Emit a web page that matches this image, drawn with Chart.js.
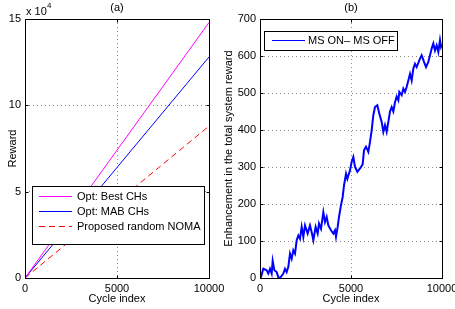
<!DOCTYPE html>
<html>
<head>
<meta charset="utf-8">
<script src="https://cdn.jsdelivr.net/npm/chart.js@4.4.0/dist/chart.umd.min.js"></script>
<style>
  html, body { margin: 0; padding: 0; background: #fff; width: 455px; height: 309px; overflow: hidden; }
  #chartA { position: absolute; left: 0; top: 0; }
  #chartB { position: absolute; left: 218px; top: 0; }
</style>
</head>
<body>
<canvas id="chartA" width="228" height="309"></canvas>
<canvas id="chartB" width="237" height="309"></canvas>
<script>
// ---- (a) reward vs cycle index ----
const cyclesA = [0, 5000, 10000];
const rewardBest = [0, 74000, 148000];
const rewardMab = [0, 64000, 128000];
const rewardNoma = [0, 44000, 88000];
const xTicks = [0, 5000, 10000];
const yTicksA = [0, 50000, 100000, 150000];

// ---- (b) enhancement MS ON - MS OFF ----
const cyclesB = [0, 55, 183, 366, 458, 550, 641, 696, 788, 916, 1007, 1099, 1282, 1374, 1465, 1557,
  1648, 1740, 1831, 1923, 2015, 2106, 2198, 2289, 2381, 2473, 2619, 2747, 2839, 2930, 3058, 3168,
  3242, 3352, 3480, 3571, 3663, 3755, 3901, 4029, 4120, 4176, 4267, 4341, 4451, 4542, 4616, 4726,
  4800, 4945, 5037, 5129, 5220, 5348, 5495, 5641, 5714, 5824, 5952, 6044, 6136, 6227, 6319, 6447,
  6557, 6685, 6776, 6868, 6960, 7051, 7143, 7235, 7326, 7418, 7509, 7601, 7655, 7784, 7875, 7967,
  8058, 8150, 8242, 8333, 8425, 8516, 8608, 8791, 8883, 9011, 9121, 9249, 9341, 9432, 9524, 9615,
  9707, 9799, 9890, 9945, 10000];
const enhancement = [0, 3, 25, 21, 12, 25, 12, 46, 21, 16, 2, 0, 12, 25, 16, 30,
  66, 52, 75, 66, 102, 115, 106, 138, 111, 142, 120, 142, 124, 102, 138, 120,
  147, 133, 178, 151, 165, 142, 129, 120, 129, 111, 138, 165, 197, 219, 250, 282,
  268, 291, 314, 327, 300, 287, 296, 307, 345, 355, 341, 368, 399, 440, 462, 467,
  444, 422, 395, 413, 395, 422, 450, 462, 450, 475, 490, 480, 503, 494, 512, 503,
  516, 534, 552, 534, 566, 579, 570, 593, 602, 584, 570, 584, 602, 620, 634, 615,
  629, 611, 643, 625, 632];
const yTicksB = [0, 100, 200, 300, 400, 500, 600, 700];

Chart.defaults.font.family = '"Liberation Sans", Arial, Helvetica, sans-serif';
Chart.defaults.font.size = 11;
Chart.defaults.color = '#000';

const toPoints = (xs, ys) => xs.map((x, i) => ({ x: x, y: ys[i] }));

// MATLAB-like frame, inward ticks, in-axes legend and titles
const matlabFrame = {
  id: 'matlabFrame',
  afterDraw(chart, args, opts) {
    const { ctx, chartArea: a, scales } = chart;
    const L = Math.round(a.left) + 0.5, R = Math.round(a.right) + 0.5;
    const T = Math.round(a.top) + 0.5, B = Math.round(a.bottom) + 0.5;
    ctx.save();
    ctx.strokeStyle = '#000';
    ctx.lineWidth = 1;
    ctx.setLineDash([]);
    ctx.strokeRect(L, T, R - L, B - T);
    // inward tick marks
    ctx.beginPath();
    for (const t of scales.x.ticks) {
      const px = Math.round(scales.x.getPixelForValue(t.value)) + 0.5;
      ctx.moveTo(px, B); ctx.lineTo(px, B - 3);
      ctx.moveTo(px, T); ctx.lineTo(px, T + 3);
    }
    for (const t of scales.y.ticks) {
      const py = Math.round(scales.y.getPixelForValue(t.value)) + 0.5;
      ctx.moveTo(L, py); ctx.lineTo(L + 3, py);
      ctx.moveTo(R, py); ctx.lineTo(R - 3, py);
    }
    ctx.stroke();

    // legend box
    const lg = opts.legend;
    if (lg) {
      ctx.fillStyle = '#fff';
      ctx.fillRect(lg.x, lg.y, lg.w, lg.h);
      ctx.strokeStyle = '#000';
      ctx.strokeRect(lg.x + 0.5, lg.y + 0.5, lg.w, lg.h);
      chart.data.datasets.forEach((ds, i) => {
        const ry = lg.firstY + i * lg.rowH;
        ctx.beginPath();
        ctx.strokeStyle = ds.borderColor;
        ctx.lineWidth = 1;
        ctx.setLineDash(ds.borderDash || []);
        ctx.moveTo(lg.lineX0, ry + 0.5);
        ctx.lineTo(lg.lineX1, ry + 0.5);
        ctx.stroke();
        ctx.setLineDash([]);
        ctx.fillStyle = '#000';
        ctx.font = '11px "Liberation Sans", Arial, sans-serif';
        ctx.textBaseline = 'middle';
        ctx.textAlign = 'left';
        ctx.fillText(ds.label, lg.textX, ry + 1);
      });
    }

    // subplot title
    ctx.fillStyle = '#000';
    ctx.font = '11px "Liberation Sans", Arial, sans-serif';
    ctx.textAlign = 'center';
    ctx.textBaseline = 'middle';
    ctx.fillText(opts.title, (a.left + a.right) / 2, 8);

    // exponent label
    if (opts.exponent) {
      ctx.textAlign = 'left';
      ctx.textBaseline = 'alphabetic';
      ctx.fillText('x 10', a.left + 1, 15);
      ctx.font = '8px "Liberation Sans", Arial, sans-serif';
      ctx.fillText(opts.exponent, a.left + 22, 8);
    }
    ctx.restore();
  }
};

function gridColor(min, max) {
  return c => (c.tick && (c.tick.value === min || c.tick.value === max)) ? 'rgba(0,0,0,0)' : '#8c8c8c';
}

function xScale() {
  return {
    type: 'linear',
    min: 0, max: 10000,
    afterBuildTicks: s => { s.ticks = xTicks.map(v => ({ value: v })); },
    ticks: { padding: 4, maxRotation: 0, callback: v => String(v) },
    grid: { color: gridColor(0, 10000), drawTicks: false, lineWidth: 1 },
    border: { display: false, dash: [1, 3] },
    title: { display: true, text: 'Cycle index', padding: { top: 0, bottom: 3 } },
    afterFit: s => { s.height = 31; s.paddingLeft = 0; s.paddingRight = 0; }
  };
}

function yScale(min, max, ticks, width, title, titlePad, fmt) {
  return {
    type: 'linear',
    min: min, max: max,
    afterBuildTicks: s => { s.ticks = ticks.map(v => ({ value: v })); },
    ticks: { padding: 4, callback: fmt },
    grid: { color: gridColor(min, max), drawTicks: false, lineWidth: 1 },
    border: { display: false, dash: [1, 3] },
    title: { display: true, text: title, padding: { top: titlePad, bottom: 0 } },
    afterFit: s => { s.width = width; s.paddingTop = 0; s.paddingBottom = 0; }
  };
}

new Chart(document.getElementById('chartA'), {
  type: 'line',
  data: {
    datasets: [
      { label: 'Opt: Best CHs', data: toPoints(cyclesA, rewardBest), borderColor: '#ff00ff', borderWidth: 1 },
      { label: 'Opt: MAB CHs', data: toPoints(cyclesA, rewardMab), borderColor: '#0000ff', borderWidth: 1 },
      { label: 'Proposed random NOMA', data: toPoints(cyclesA, rewardNoma), borderColor: '#ff0000', borderWidth: 1, borderDash: [6, 4] }
    ]
  },
  options: {
    responsive: false,
    animation: false,
    layout: { padding: { left: 0, right: 19, top: 19, bottom: 0 } },
    elements: { point: { radius: 0 }, line: { tension: 0 } },
    plugins: {
      legend: { display: false },
      tooltip: { enabled: false },
      matlabFrame: {
        title: '(a)',
        exponent: '4',
        legend: { x: 32, y: 186, w: 172, h: 58, firstY: 196, rowH: 15, lineX0: 39, lineX1: 72, textX: 77 }
      }
    },
    scales: {
      x: xScale(),
      y: yScale(0, 150000, yTicksA, 25, 'Reward', 6, v => String(v / 10000))
    }
  },
  plugins: [matlabFrame]
});

new Chart(document.getElementById('chartB'), {
  type: 'line',
  data: {
    datasets: [
      { label: 'MS ON\u2013 MS OFF', data: toPoints(cyclesB, enhancement), borderColor: '#0000ff', borderWidth: 2 }
    ]
  },
  options: {
    responsive: false,
    animation: false,
    layout: { padding: { left: 0, right: 13, top: 19, bottom: 0 } },
    elements: { point: { radius: 0 }, line: { tension: 0 } },
    plugins: {
      legend: { display: false },
      tooltip: { enabled: false },
      matlabFrame: {
        title: '(b)',
        legend: { x: 46, y: 31, w: 133, h: 19, firstY: 40, rowH: 15, lineX0: 54, lineX1: 87, textX: 90 }
      }
    },
    scales: {
      x: xScale(),
      y: yScale(0, 700, yTicksB, 42, 'Enhancement in the total system reward', 4, v => String(v))
    }
  },
  plugins: [matlabFrame]
});
</script>
</body>
</html>
